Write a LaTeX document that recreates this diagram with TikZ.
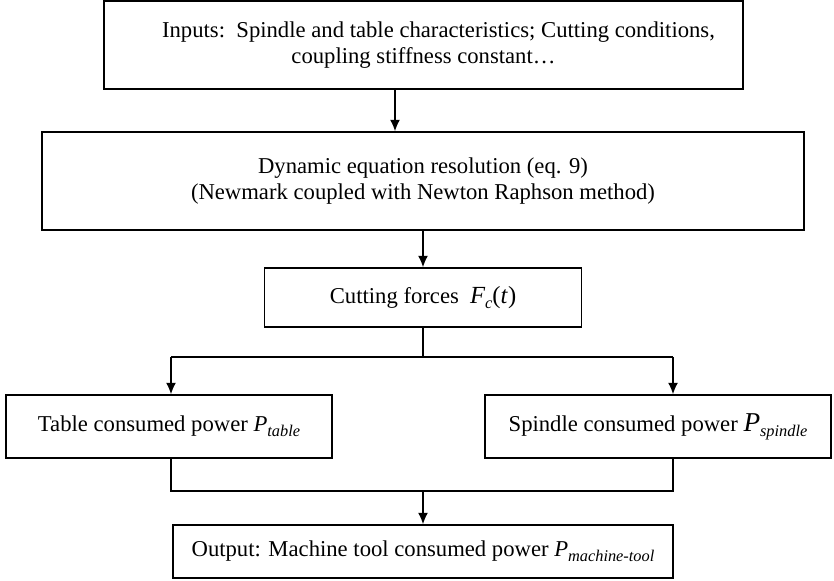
\documentclass[tikz,border=0pt]{standalone}
\usepackage{fontspec}
\setmainfont{Liberation Serif}
\usetikzlibrary{arrows.meta}
\newcommand{\lowsub}[1]{\raisebox{-0.5ex}{\fontsize{9.3}{9.3}\selectfont\itshape #1}}
\tikzset{
  box/.style={draw, line width=0.8pt, align=center, inner sep=0pt,
    font=\fontsize{12.9}{14.6}\selectfont},
  flow/.style={line width=0.85pt},
  flowarr/.style={line width=0.85pt, -{Latex[length=2.3mm,width=2mm]}}
}
\begin{document}
\begin{tikzpicture}[scale=1.0]
\useasboundingbox (0,0) rectangle (16.68,11.6);
\node[box, minimum width=12.78cm, minimum height=1.76cm] (inputs) at (8.47,10.7)
  {\hspace*{0.6cm}Inputs:\ \ Spindle and table characteristics; Cutting conditions,\\coupling stiffness constant\ldots};
\node[box, minimum width=15.24cm, minimum height=1.96cm] (dyneq) at (8.46,7.98)
  {Dynamic equation resolution (eq. 9)\\(Newmark coupled with Newton Raphson method)};
\node[box, minimum width=6.34cm, minimum height=1.18cm] (forces) at (8.46,5.65)
  {Cutting forces\ \ {\fontsize{14}{14}\selectfont\itshape F}\lowsub{c}{\fontsize{14}{14}\selectfont(\textit{t})}};
\node[box, minimum width=6.52cm, minimum height=1.26cm] (table) at (3.38,3.07)
  {Table consumed power \textit{P}\lowsub{table}};
\node[box, minimum width=6.92cm, minimum height=1.26cm] (spindle) at (13.16,3.07)
  {Spindle consumed power {\fontsize{15.5}{15}\selectfont\textit{P}}\lowsub{spindle}};
\node[box, minimum width=10.0cm, minimum height=1.06cm] (output) at (8.46,0.57)
  {Output: Machine tool consumed power \textit{P}\lowsub{machine-tool}};
% branch and join points
\coordinate (splitL) at (3.42,4.46);
\coordinate (splitR) at (13.46,4.46);
\coordinate (joinL) at (3.42,1.78);
\coordinate (joinR) at (13.46,1.78);
\draw[flowarr] ([xshift=-0.57cm]inputs.south) -- ([xshift=-0.57cm]inputs.south |- dyneq.north);
\draw[flowarr] (dyneq.south) -- (forces.north);
\draw[flow] (forces.south) -- (forces.south |- splitL);
\draw[flow] (splitL) -- (splitR);
\draw[flowarr] (splitL) -- (splitL |- table.north);
\draw[flowarr] (splitR) -- (splitR |- spindle.north);
\draw[flow] (splitL |- table.south) -- (joinL) -- (joinR) -- (splitR |- spindle.south);
\draw[flowarr] (output.north |- joinL) -- (output.north);
\end{tikzpicture}
\end{document}
